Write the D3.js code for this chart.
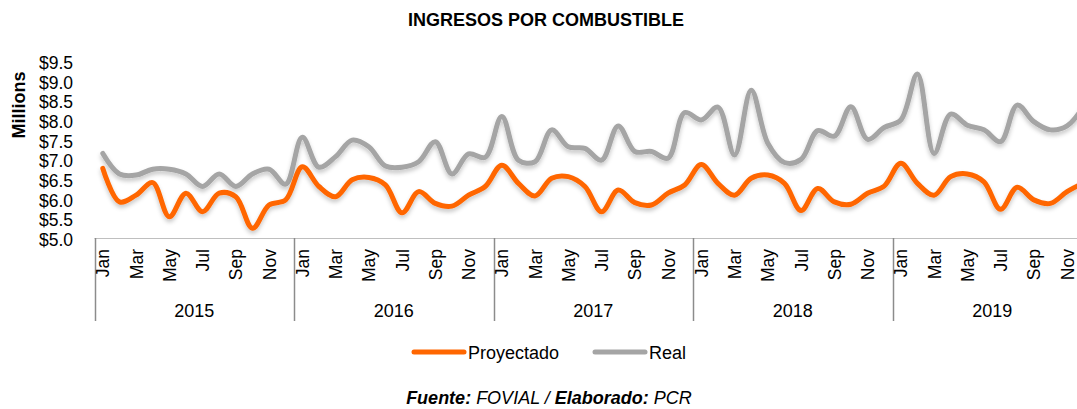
<!DOCTYPE html>
<meta charset='utf-8'>
<html>
<head>
    <title>Ingresos por combustible</title>
    <script src='https://d3js.org/d3.v7.min.js'></script>
    <style>
        html, body { margin: 0; padding: 0; background: #fff; }
        svg { display: block; font-family: 'Liberation Sans', Arial, sans-serif; }
    </style>
</head>
<body>
<script>
    const width = 1077;
    const height = 409;

    // data (millions of $)
    const years = ['2015', '2016', '2017', '2018', '2019'];
    const monthNames = ['Jan', 'Feb', 'Mar', 'Apr', 'May', 'Jun', 'Jul', 'Aug', 'Sep', 'Oct', 'Nov', 'Dec'];
    const yTicks = [5.0, 5.5, 6.0, 6.5, 7.0, 7.5, 8.0, 8.5, 9.0, 9.5];

    const proyectado = [
        6.82, 5.97, 6.14, 6.46, 5.59, 6.19, 5.72, 6.19, 6.10, 5.30, 5.89, 6.02,
        6.86, 6.36, 6.10, 6.53, 6.59, 6.40, 5.69, 6.23, 5.93, 5.86, 6.14, 6.36,
        6.90, 6.44, 6.12, 6.57, 6.61, 6.36, 5.72, 6.27, 5.95, 5.89, 6.19, 6.40,
        6.92, 6.44, 6.14, 6.57, 6.65, 6.44, 5.75, 6.31, 5.97, 5.91, 6.19, 6.37,
        6.95, 6.44, 6.14, 6.61, 6.68, 6.48, 5.78, 6.34, 6.02, 5.93, 6.23, 6.45
    ];
    const real = [
        7.20, 6.68, 6.65, 6.80, 6.80, 6.68, 6.36, 6.68, 6.36, 6.68, 6.80, 6.42,
        7.61, 6.85, 7.12, 7.54, 7.37, 6.88, 6.85, 6.99, 7.50, 6.68, 7.19, 7.10,
        8.14, 7.03, 6.99, 7.80, 7.37, 7.33, 7.03, 7.90, 7.25, 7.25, 7.08, 8.24,
        8.05, 8.38, 7.16, 8.81, 7.46, 6.97, 7.05, 7.78, 7.64, 8.39, 7.56, 7.86,
        8.05, 9.22, 7.20, 8.20, 7.92, 7.80, 7.50, 8.43, 8.01, 7.80, 7.90, 8.40
    ];

    const series = [
        { name: 'Proyectado', values: proyectado, colour: '#FF6600' },
        { name: 'Real', values: real, colour: '#A5A5A5' }
    ];

    // one key per month: "2015-0" ...
    const keys = [];
    years.forEach(function (y) {
        monthNames.forEach(function (m, i) { keys.push(y + '-' + i); });
    });

    const svg = d3.select('body')
        .append('svg')
        .attr('width', width)
        .attr('height', height);

    // soft shadow under lines, like the Excel original
    const defs = svg.append('defs');
    defs.append('filter')
        .attr('id', 'shadow')
        .attr('x', '-5%').attr('y', '-20%')
        .attr('width', '110%').attr('height', '150%')
        .append('feDropShadow')
        .attr('dx', 0).attr('dy', 3)
        .attr('stdDeviation', 2)
        .attr('flood-color', '#000')
        .attr('flood-opacity', 0.22);

    // plot runs a bit past the right edge (chart was cropped)
    const x = d3.scaleBand()
        .domain(keys)
        .range([94.5, 1092]);

    const y = d3.scaleLinear()
        .domain([5, 9.5])
        .range([240, 63]);

    const xc = function (i) { return x(keys[i]) + x.bandwidth() / 2; };

    // title
    svg.append('text')
        .attr('x', 546)
        .attr('y', 26)
        .attr('text-anchor', 'middle')
        .style('font-size', '18px')
        .style('font-weight', 'bold')
        .text('INGRESOS POR COMBUSTIBLE');

    // y axis
    const yAxis = svg.append('g')
        .attr('transform', 'translate(73,0)')
        .call(d3.axisLeft(y)
            .tickValues(yTicks)
            .tickSize(0)
            .tickPadding(0)
            .tickFormat(function (d) { return '$' + d.toFixed(1); }));
    yAxis.select('.domain').remove();
    yAxis.selectAll('text')
        .style('font-size', '17.5px')
        .style('font-family', "'Liberation Sans', Arial, sans-serif")
        .attr('fill', '#000');

    svg.append('text')
        .attr('transform', 'translate(25,105) rotate(-90)')
        .attr('text-anchor', 'middle')
        .style('font-size', '18px')
        .style('font-weight', 'bold')
        .text('Millions');

    // category axis: horizontal line + year separators
    svg.append('line')
        .attr('x1', 94.5).attr('x2', 1092)
        .attr('y1', 238.5).attr('y2', 238.5)
        .attr('stroke', '#BFBFBF')
        .attr('stroke-width', 1);

    const yearStarts = years.map(function (yr) { return x(yr + '-0'); });
    yearStarts.push(x.range()[1]);
    svg.append('g')
        .selectAll('line')
        .data(yearStarts)
        .enter()
        .append('line')
        .attr('x1', function (d) { return Math.round(d) + 0.5; })
        .attr('x2', function (d) { return Math.round(d) + 0.5; })
        .attr('y1', 238)
        .attr('y2', 321)
        .attr('stroke', '#8C8C8C')
        .attr('stroke-width', 1.5);

    // month labels, every other month
    svg.append('g')
        .selectAll('text')
        .data(keys.filter(function (k, i) { return i % 2 === 0; }))
        .enter()
        .append('text')
        .attr('transform', function (d) {
            return 'translate(' + (x(d) + x.bandwidth() / 2 + 6.5) + ',249) rotate(-90)';
        })
        .attr('text-anchor', 'end')
        .style('font-size', '17.5px')
        .text(function (d) { return monthNames[+d.split('-')[1]]; });

    // year labels
    svg.append('g')
        .selectAll('text')
        .data(years)
        .enter()
        .append('text')
        .attr('x', function (d) { return x(d + '-0') + x.bandwidth() * 6; })
        .attr('y', 317)
        .attr('text-anchor', 'middle')
        .style('font-size', '18px')
        .text(function (d) { return d; });

    // lines
    const line = d3.line()
        .x(function (d, i) { return xc(i); })
        .y(function (d) { return y(d); })
        .curve(d3.curveCatmullRom.alpha(0.5));

    svg.append('g')
        .selectAll('path')
        .data(series.slice().reverse())
        .enter()
        .append('path')
        .attr('d', function (d) { return line(d.values); })
        .attr('fill', 'none')
        .attr('stroke', function (d) { return d.colour; })
        .attr('stroke-width', 5)
        .attr('stroke-linejoin', 'round')
        .attr('stroke-linecap', 'round')
        .attr('filter', 'url(#shadow)');

    // legend
    const legendPos = [412, 593];
    const legend = svg.selectAll('g.legendEntry')
        .data(series)
        .enter()
        .append('g')
        .attr('class', 'legendEntry')
        .attr('transform', function (d, i) { return 'translate(' + legendPos[i] + ',352)'; });

    legend.append('line')
        .attr('x1', 2).attr('x2', 52)
        .attr('y1', 0).attr('y2', 0)
        .attr('stroke', function (d) { return d.colour; })
        .attr('stroke-width', 5)
        .attr('stroke-linecap', 'round');

    legend.append('text')
        .attr('x', 56)
        .attr('y', 7)
        .style('font-size', '18px')
        .text(function (d) { return d.name; });

    // source note
    const note = svg.append('text')
        .attr('x', 549)
        .attr('y', 404)
        .attr('text-anchor', 'middle')
        .style('font-size', '18px')
        .style('font-style', 'italic');
    note.append('tspan').style('font-weight', 'bold').text('Fuente:');
    note.append('tspan').text(' FOVIAL / ');
    note.append('tspan').style('font-weight', 'bold').text('Elaborado:');
    note.append('tspan').text(' PCR');
</script>
</body>
</html>
